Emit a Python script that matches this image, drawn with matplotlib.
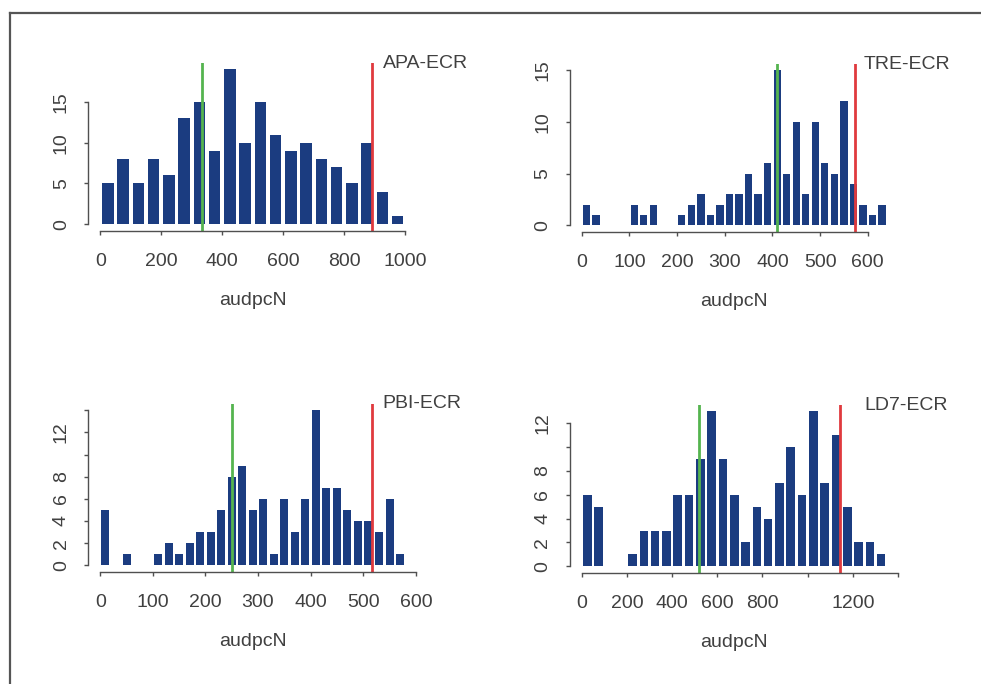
import matplotlib.pyplot as plt
import numpy as np

plt.rcParams['font.family'] = ['Liberation Sans', 'DejaVu Sans']

# histogram counts (bins start at 0)
apa_counts = [5, 8, 5, 8, 6, 13, 15, 9, 19, 10, 15, 11, 9, 10, 8, 7, 5, 10, 4, 1]
tre_counts = [2, 1, 0, 0, 0, 2, 1, 2, 0, 0, 1, 2, 3, 1, 2, 3, 3, 5, 3, 6,
              15, 5, 10, 3, 10, 6, 5, 12, 4, 2, 1, 2]
pbi_counts = [5, 0, 1, 0, 0, 1, 2, 1, 2, 3, 3, 5, 8, 9, 5, 6, 1, 6, 3, 6,
              14, 7, 7, 5, 4, 4, 3, 6, 1]
ld7_counts = [6, 5, 0, 0, 1, 3, 3, 3, 6, 6, 9, 13, 9, 6, 2, 5, 4, 7, 10, 6,
              13, 7, 11, 5, 2, 2, 1]

names = ["APA-ECR", "TRE-ECR", "PBI-ECR", "LD7-ECR"]
bin_widths = [50, 20, 20, 50]
green_at = [334, 409, 251, 521]
red_at = [890, 574, 517, 1144]

x_ticks = [list(range(0, 1001, 200)), list(range(0, 601, 100)),
           list(range(0, 601, 100)), list(range(0, 1401, 200))]
x_labels = [[str(v) for v in x_ticks[0]], [str(v) for v in x_ticks[1]],
            [str(v) for v in x_ticks[2]],
            ["0", "200", "400", "600", "800", "", "1200", ""]]
y_ticks = [[0, 5, 10, 15], [0, 5, 10, 15], list(range(0, 15, 2)), list(range(0, 13, 2))]
y_labels = [["0", "5", "10", "15"], ["0", "5", "10", "15"],
            ["0", "2", "4", "6", "8", "", "12", ""],
            ["0", "2", "4", "6", "8", "", "12"]]

all_counts = [apa_counts, tre_counts, pbi_counts, ld7_counts]

W, H = 981, 684
# left px, top px of each plot region
boxes = [(88, 63), (569.5, 64), (88, 404), (569.5, 405)]
bw_px, bh_px = 329.5, 167.5

bar_col = "#1b3c80"
axis_col = "#505050"
text_col = "#404040"

fig = plt.figure(figsize=(W / 100, H / 100), dpi=100)

for i in range(4):
    l, t = boxes[i]
    ax = fig.add_axes([l / W, 1 - (t + bh_px) / H, bw_px / W, bh_px / H])
    counts = all_counts[i]
    bw = bin_widths[i]
    edges = np.arange(len(counts) + 1) * bw
    centers = edges[:-1] + bw / 2
    ax.bar(centers, counts, width=bw * 0.76, color=bar_col, linewidth=0)
    ax.axvline(green_at[i], color="#55b44f", lw=2)
    ax.axvline(red_at[i], color="#e03a3e", lw=2)

    span = edges[-1] - edges[0]
    ax.set_xlim(edges[0] - 0.04 * span, edges[-1] + 0.04 * span)
    top = max(counts)
    ax.set_ylim(-0.04 * top, 1.04 * top)

    ax.set_xticks(x_ticks[i])
    ax.set_xticklabels(x_labels[i])
    ax.set_yticks(y_ticks[i])
    ax.set_yticklabels(y_labels[i], rotation=90, va="center")

    for s in ["top", "right"]:
        ax.spines[s].set_visible(False)
    ax.spines["left"].set_bounds(y_ticks[i][0], y_ticks[i][-1])
    ax.spines["bottom"].set_bounds(x_ticks[i][0], x_ticks[i][-1])
    for s in ["left", "bottom"]:
        ax.spines[s].set_color(axis_col)
        ax.spines[s].set_linewidth(1)

    ax.tick_params(axis="x", length=3, width=1, color=axis_col,
                   labelsize=14, labelcolor=text_col, pad=13)
    ax.tick_params(axis="y", length=3, width=1, color=axis_col,
                   labelsize=14, labelcolor=text_col, pad=10)
    ax.set_xlabel("audpcN", fontsize=14, color=text_col, labelpad=16)

    ax.text(0.894, 1.0, names[i], transform=ax.transAxes, ha="left",
            va="center", fontsize=14, color=text_col)

# outer frame (only the top and left edges fall inside the picture)
fig.add_artist(plt.Line2D([10 / W, 10 / W], [0, 1 - 13 / H],
                          transform=fig.transFigure, color="#555555", lw=1.6))
fig.add_artist(plt.Line2D([10 / W, 1], [1 - 13 / H, 1 - 13 / H],
                          transform=fig.transFigure, color="#555555", lw=1.6))

fig.savefig("out.png", dpi=100)
